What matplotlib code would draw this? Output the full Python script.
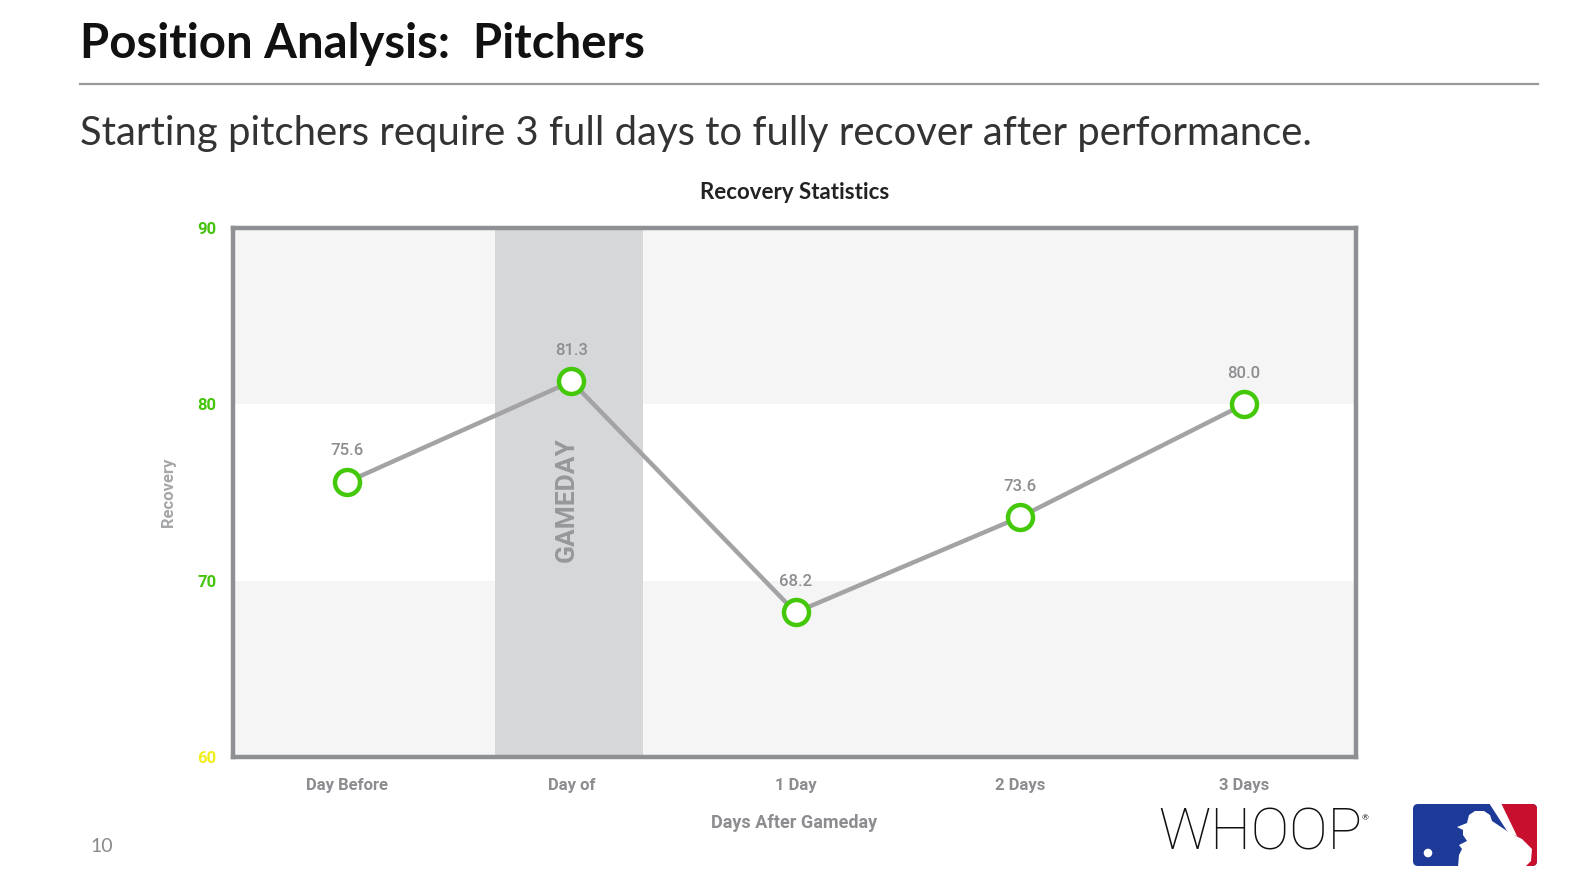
import numpy as np
import matplotlib
matplotlib.use("Agg")
import matplotlib.pyplot as plt
from matplotlib.patches import FancyBboxPatch, Polygon, Circle

days = ["Day Before", "Day of", "1 Day", "2 Days", "3 Days"]
recovery = [75.6, 81.3, 68.2, 73.6, 80.0]
y_ticks = [60, 70, 80, 90]
y_tick_colors = ["#f2ee1a", "#44c40a", "#44c40a", "#44c40a"]
bands = [(60, 70), (80, 90)]
gameday_span = (0.66, 1.32)

GREEN = "#44c80a"
GREY_TXT = "#8c8d90"
FONT = "Lato"
CFONT = "Roboto"   # chart labels (DIN-ish in the original)

fig = plt.figure(figsize=(15.69, 8.83), dpi=100)

# ---- slide header ----
fig.text(80 / 1569, 1 - 44 / 883, "Position Analysis:  Pitchers", family=FONT,
         fontweight="bold", fontsize=34, color="#111111", va="center", ha="left")
fig.add_artist(plt.Line2D([80 / 1569, 1538 / 1569], [1 - 84 / 883] * 2,
                          color="#9a9a9a", lw=1.6))
fig.text(80 / 1569, 1 - 133 / 883,
         "Starting pitchers require 3 full days to fully recover after performance.",
         family=FONT, fontsize=28.8, color="#333333", va="center", ha="left")
fig.text(90 / 1569, 1 - 846 / 883, "10", family=FONT, fontsize=14,
         color="#8a8a8a", va="center", ha="left")

# ---- chart ----
ax = fig.add_axes([233 / 1569, 1 - 757 / 883, 1123 / 1569, 529 / 883])
x = np.arange(len(days))
ax.set_xlim(-0.51, 4.5)
ax.set_ylim(60, 90)
for lo, hi in bands:
    ax.axhspan(lo, hi, color="#f5f5f6", lw=0, zorder=0)
ax.axvspan(*gameday_span, color="#d6d7d9", lw=0, zorder=1)
ax.text(np.mean(gameday_span) - 0.01, 74.6, "GAMEDAY", rotation=90, ha="center",
        va="center", fontsize=19, fontweight="bold", color="#97989b",
        family=CFONT, zorder=2)

ax.plot(x, recovery, color="#a3a3a5", lw=3.2, zorder=3, solid_capstyle="round")
ax.plot(x, recovery, ls="none", marker="o", ms=18, mfc="white", mec=GREEN,
        mew=3.2, zorder=4)
for xi, v in zip(x, recovery):
    ax.annotate(f"{v:.1f}", (xi, v), xytext=(0, 17), textcoords="offset points",
                ha="center", va="bottom", fontsize=12, color=GREY_TXT,
                family=CFONT, fontweight="medium")

ax.set_xticks(x)
ax.set_xticklabels(days, fontsize=12, color=GREY_TXT, family=CFONT,
                   fontweight="bold")
ax.set_yticks(y_ticks)
ax.set_yticklabels([str(t) for t in y_ticks], fontsize=12, family=CFONT,
                   fontweight="bold")
for lbl, c in zip(ax.get_yticklabels(), y_tick_colors):
    lbl.set_color(c)
ax.tick_params(length=0)
ax.tick_params(axis="x", pad=15)
ax.tick_params(axis="y", pad=12)
for s in ax.spines.values():
    s.set_color("#8f9093")
    s.set_linewidth(3.2)
    s.set_zorder(5)

ax.set_xlabel("Days After Gameday", fontsize=13, color=GREY_TXT, family=CFONT,
              fontweight="bold", labelpad=15)
ax.set_ylabel("Recovery", fontsize=12, color="#a5a6a8", family=CFONT,
              fontweight="bold", labelpad=15)
ax.set_title("Recovery Statistics", fontsize=16, fontweight="bold", color="#222222",
             family=FONT, pad=21)

# ---- logos ----
fig.text(1158 / 1569, 1 - 834 / 883, "WHOOP", family=CFONT, fontweight="light",
         fontsize=41.5, color="#111111", va="center", ha="left")
fig.text(1362 / 1569, 1 - 818 / 883, "®", family=FONT, fontsize=6,
         color="#111111", va="center", ha="left")

lg = fig.add_axes([1412 / 1569, 1 - 867 / 883, 126 / 1569, 64 / 883])
lg.set_xlim(0, 126)
lg.set_ylim(0, 64)
lg.axis("off")
box = FancyBboxPatch((1, 1), 124, 62, boxstyle="round,pad=0,rounding_size=5",
                     fc="#1e3a99", ec="none")
lg.add_patch(box)
red = Polygon([[84, 64], [126, 64], [126, 0], [110, 0]], closed=True,
              fc="#c8102e", ec="none")
red.set_clip_path(box)
lg.add_patch(red)
bat = Polygon([[77, 64], [89, 64], [105, 31], [97, 33]], closed=True,
              fc="white", ec="none")
bat.set_clip_path(box)
lg.add_patch(bat)
batter = Polygon([[46, 0], [47, 12], [50, 18], [47, 22], [55, 26], [51, 32],
                  [51, 37], [45, 40], [55, 44], [57, 52], [63, 56], [72, 56],
                  [78, 52], [80, 46], [98, 34], [110, 28], [120, 18], [119, 6],
                  [113, 0]], closed=True, fc="white", ec="none")
batter.set_clip_path(box)
lg.add_patch(batter)
lg.add_patch(Circle((16, 14), 4.3, fc="white", ec="none"))

fig.savefig("out.png", dpi=100)
